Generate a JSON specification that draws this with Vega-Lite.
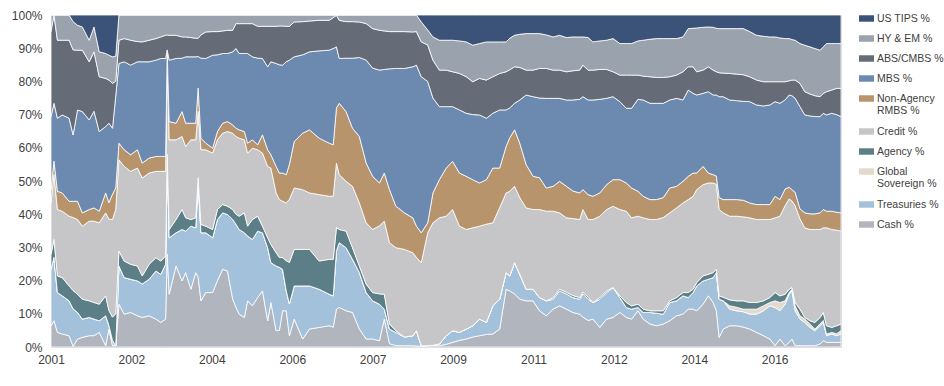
{
  "$schema": "https://vega.github.io/schema/vega-lite/v6.json",
  "autosize": "none",
  "width": 790,
  "height": 332,
  "padding": {"left": 51, "top": 15, "right": 103, "bottom": 39},
  "background": "white",
  "config": {
    "view": {"stroke": "#c8ccd4", "strokeWidth": 1},
    "font": "Liberation Sans, sans-serif"
  },
  "data": {"values": [
{"t":0,"c":6.4,"tr":17,"g":0,"a":4.5,"cr":15.5,"n":4,"m":22,"ab":25.6,"h":5,"tp":0},
{"t":0.75,"c":7.9,"tr":19.1,"g":0,"a":5.4,"cr":19.6,"n":4,"m":17.4,"ab":26.6,"h":0,"tp":0},
{"t":1.6,"c":4.4,"tr":12,"g":0,"a":5,"cr":20,"n":5.5,"m":22,"ab":23.5,"h":7.6,"tp":0},
{"t":2.8,"c":3.9,"tr":11.5,"g":0,"a":5.5,"cr":20,"n":5.5,"m":23.5,"ab":22.5,"h":7.6,"tp":0},
{"t":4.5,"c":3.4,"tr":10.5,"g":0,"a":4.5,"cr":21,"n":4.5,"m":25,"ab":23.5,"h":7.6,"tp":0},
{"t":5.5,"c":0.2,"tr":11.3,"g":0,"a":5.5,"cr":22,"n":4.9,"m":20,"ab":25.6,"h":8.5,"tp":2},
{"t":6.6,"c":2.4,"tr":8,"g":0,"a":5.5,"cr":22.5,"n":5.5,"m":27.5,"ab":18,"h":7.5,"tp":3.1},
{"t":7.8,"c":2.9,"tr":5.5,"g":0,"a":6,"cr":22,"n":4,"m":30.5,"ab":18.5,"h":7,"tp":3.6},
{"t":9.5,"c":3.4,"tr":5.5,"g":0,"a":5,"cr":24,"n":3.5,"m":27,"ab":17.5,"h":6.5,"tp":7.6},
{"t":10.7,"c":3.4,"tr":5,"g":0,"a":5,"cr":24.5,"n":4,"m":29.1,"ab":17.9,"h":7.5,"tp":3.6},
{"t":12,"c":4.4,"tr":3.5,"g":0,"a":5,"cr":24.5,"n":3.5,"m":24,"ab":16.5,"h":7.5,"tp":11.1},
{"t":13.6,"c":0.4,"tr":9,"g":0,"a":6,"cr":25,"n":6,"m":20,"ab":14.5,"h":7.5,"tp":11.6},
{"t":14.4,"c":5.4,"tr":1.1,"g":0,"a":4.5,"cr":27.5,"n":5,"m":23.9,"ab":13,"h":7.5,"tp":12.1},
{"t":15.3,"c":0.4,"tr":1.6,"g":0,"a":7,"cr":29.4,"n":7.6,"m":19.9,"ab":13.5,"h":8,"tp":12.6},
{"t":16.1,"c":0.4,"tr":0,"g":0,"a":9.6,"cr":31.4,"n":6.5,"m":27.7,"ab":4.5,"h":7.5,"tp":12.4},
{"t":16.9,"c":12.9,"tr":11.5,"g":0,"a":4.5,"cr":27.5,"n":5,"m":24,"ab":7,"h":7.6,"tp":0},
{"t":18.2,"c":9.9,"tr":11,"g":0,"a":5,"cr":28.5,"n":5,"m":26.5,"ab":7,"h":7.1,"tp":0},
{"t":19.8,"c":10.4,"tr":10,"g":0,"a":4.5,"cr":28,"n":5,"m":27,"ab":7.5,"h":7.6,"tp":0},
{"t":21.5,"c":9.4,"tr":10.5,"g":0,"a":4.5,"cr":29.5,"n":5.5,"m":26.5,"ab":6.1,"h":8,"tp":0},
{"t":22.7,"c":8.9,"tr":10.1,"g":0,"a":2.4,"cr":29.5,"n":4.5,"m":30.5,"ab":6,"h":8.1,"tp":0},
{"t":24.4,"c":9.4,"tr":11,"g":0,"a":4.5,"cr":27.5,"n":4.5,"m":29,"ab":6.5,"h":7.6,"tp":0},
{"t":26.1,"c":8.4,"tr":14.5,"g":0,"a":4,"cr":26,"n":4.5,"m":29,"ab":6.5,"h":7.1,"tp":0},
{"t":27.3,"c":7.4,"tr":14.5,"g":0,"a":4,"cr":27,"n":4.5,"m":29.5,"ab":6.5,"h":6.6,"tp":0},
{"t":28.5,"c":8.4,"tr":16.5,"g":0,"a":2.5,"cr":25.5,"n":4.5,"m":29.5,"ab":7,"h":6.1,"tp":0},
{"t":28.9,"c":28,"tr":30,"g":0,"a":0,"cr":31,"n":0,"m":0.5,"ab":4.5,"h":6,"tp":0},
{"t":29.4,"c":15.9,"tr":17,"g":0,"a":2.5,"cr":27,"n":5.5,"m":18.5,"ab":7.5,"h":6.1,"tp":0},
{"t":31.1,"c":24.4,"tr":10,"g":0,"a":4,"cr":24,"n":5,"m":19.5,"ab":7,"h":6.1,"tp":0},
{"t":32.6,"c":19.9,"tr":15.5,"g":0,"a":6,"cr":22,"n":7.5,"m":16.1,"ab":6.4,"h":6.6,"tp":0},
{"t":33.5,"c":22.4,"tr":12.5,"g":0,"a":4,"cr":21.5,"n":7,"m":20,"ab":6,"h":6.6,"tp":0},
{"t":34.8,"c":17.4,"tr":19,"g":0,"a":2,"cr":24,"n":5,"m":20,"ab":5.8,"h":6.8,"tp":0},
{"t":36,"c":22.4,"tr":13.5,"g":0,"a":3,"cr":23.5,"n":5,"m":20,"ab":5.6,"h":7,"tp":0},
{"t":36.6,"c":21,"tr":29,"g":0,"a":1,"cr":20,"n":7,"m":9.5,"ab":5.5,"h":7,"tp":0},
{"t":37.3,"c":13.9,"tr":20.5,"g":0,"a":2.5,"cr":22.5,"n":3.5,"m":24.1,"ab":7,"h":6,"tp":0},
{"t":38.5,"c":16.4,"tr":18,"g":0,"a":2,"cr":23,"n":2,"m":25.5,"ab":8,"h":5.1,"tp":0},
{"t":40.2,"c":16.4,"tr":16.5,"g":0,"a":2.5,"cr":23,"n":1.5,"m":28,"ab":7.1,"h":5,"tp":0},
{"t":41.4,"c":20,"tr":18.4,"g":0,"a":3,"cr":21,"n":2.5,"m":23.1,"ab":7,"h":5,"tp":0},
{"t":42.7,"c":23.4,"tr":17,"g":0,"a":2.5,"cr":21.5,"n":3,"m":21,"ab":6.8,"h":4.8,"tp":0},
{"t":43.9,"c":22.9,"tr":17,"g":0,"a":2.5,"cr":22.5,"n":3,"m":20.5,"ab":7,"h":4.6,"tp":0},
{"t":45.2,"c":14.4,"tr":24,"g":0,"a":3,"cr":23,"n":2.5,"m":22,"ab":6.5,"h":4.6,"tp":0},
{"t":46,"c":12,"tr":25,"g":0,"a":3,"cr":23.4,"n":2.5,"m":24,"ab":7.5,"h":2.6,"tp":0},
{"t":46.8,"c":9.9,"tr":25.5,"g":0,"a":4,"cr":23.5,"n":2.5,"m":23,"ab":9,"h":2.6,"tp":0},
{"t":48.1,"c":8.9,"tr":25.5,"g":0,"a":6,"cr":22,"n":2.5,"m":23.5,"ab":9,"h":2.6,"tp":0},
{"t":48.9,"c":13.9,"tr":19.5,"g":0,"a":3,"cr":22,"n":3,"m":27,"ab":9,"h":2.6,"tp":0},
{"t":50.1,"c":12.4,"tr":20,"g":0,"a":6,"cr":21.5,"n":2.5,"m":25,"ab":10,"h":2.6,"tp":0},
{"t":51.4,"c":14.9,"tr":20,"g":0,"a":4.5,"cr":20,"n":1.5,"m":26.1,"ab":9.6,"h":3.4,"tp":0},
{"t":52.6,"c":16.9,"tr":17.5,"g":0,"a":2,"cr":22,"n":5.5,"m":23,"ab":9.7,"h":3.4,"tp":0},
{"t":53.9,"c":7.9,"tr":22,"g":0,"a":3,"cr":21.5,"n":5,"m":25,"ab":12.2,"h":3.4,"tp":0},
{"t":54.7,"c":13.4,"tr":12,"g":0,"a":5.5,"cr":23,"n":4,"m":28,"ab":10.7,"h":3.4,"tp":0},
{"t":56,"c":4.9,"tr":19.5,"g":0,"a":4,"cr":18,"n":8,"m":31,"ab":11.2,"h":3.4,"tp":0},
{"t":56.8,"c":5,"tr":19,"g":0,"a":3,"cr":17.4,"n":8,"m":32.6,"ab":11.7,"h":3.3,"tp":0},
{"t":57.6,"c":10.9,"tr":12.5,"g":0,"a":3.5,"cr":17,"n":8.5,"m":32.5,"ab":11.8,"h":3.3,"tp":0},
{"t":58.5,"c":10.9,"tr":6.1,"g":0,"a":9,"cr":17.4,"n":8.5,"m":34,"ab":10.7,"h":3.4,"tp":0},
{"t":59.3,"c":3.4,"tr":9.6,"g":0,"a":12.5,"cr":19,"n":10.5,"m":31.4,"ab":10.2,"h":3.4,"tp":0},
{"t":60.5,"c":8.4,"tr":10,"g":0,"a":11,"cr":18.5,"n":14,"m":25.5,"ab":10.5,"h":2.1,"tp":0},
{"t":62.6,"c":2.4,"tr":16,"g":0,"a":11,"cr":18,"n":17,"m":23.6,"ab":10,"h":2,"tp":0},
{"t":64.3,"c":5.4,"tr":13,"g":0,"a":11,"cr":17,"n":19,"m":23.5,"ab":9.3,"h":1.8,"tp":0},
{"t":66.7,"c":5.9,"tr":11.5,"g":0,"a":8.5,"cr":20,"n":17,"m":26.3,"ab":9.2,"h":1.6,"tp":0},
{"t":69.2,"c":6.4,"tr":9.5,"g":0,"a":10.5,"cr":19,"n":16,"m":28,"ab":9,"h":1.6,"tp":0},
{"t":70.2,"c":6,"tr":9.4,"g":0,"a":11,"cr":19,"n":15.5,"m":29,"ab":9.3,"h":0.8,"tp":0},
{"t":71,"c":11.4,"tr":17.6,"g":0,"a":7,"cr":19.4,"n":16.6,"m":18.4,"ab":9.5,"h":0.1,"tp":0},
{"t":71.7,"c":11.9,"tr":19.5,"g":0,"a":4,"cr":16.5,"n":21.5,"m":13.5,"ab":11.5,"h":1.6,"tp":0},
{"t":73.4,"c":10.9,"tr":19,"g":0,"a":5,"cr":15,"n":21,"m":16.1,"ab":11,"h":2,"tp":0},
{"t":75,"c":10.4,"tr":16,"g":0,"a":3.5,"cr":18.5,"n":17.5,"m":21.1,"ab":11,"h":2,"tp":0},
{"t":76.7,"c":5.4,"tr":17,"g":0,"a":2,"cr":19,"n":20,"m":23.8,"ab":10.7,"h":2.1,"tp":0},
{"t":78.4,"c":2.4,"tr":14,"g":0,"a":2.5,"cr":18.5,"n":18,"m":31,"ab":11,"h":2.6,"tp":0},
{"t":80,"c":2.4,"tr":11.5,"g":0,"a":2.5,"cr":19,"n":16,"m":32.6,"ab":11.9,"h":4.1,"tp":0},
{"t":81.7,"c":1.9,"tr":11,"g":0,"a":3.1,"cr":20.5,"n":12.9,"m":34,"ab":12,"h":4.6,"tp":0},
{"t":82.9,"c":8.4,"tr":3,"g":0,"a":4.5,"cr":22,"n":14.5,"m":31.2,"ab":11.6,"h":4.8,"tp":0},
{"t":84.2,"c":1,"tr":4.4,"g":0,"a":1.5,"cr":24.5,"n":16,"m":36.4,"ab":11.2,"h":5,"tp":0},
{"t":85.8,"c":0.4,"tr":4,"g":0,"a":0.5,"cr":25,"n":12.5,"m":41.5,"ab":11.1,"h":5,"tp":0},
{"t":87.9,"c":0.4,"tr":2.6,"g":0,"a":0,"cr":26.4,"n":11,"m":43.5,"ab":11.1,"h":5,"tp":0},
{"t":90,"c":0.4,"tr":3,"g":0,"a":0,"cr":25,"n":10.5,"m":45.5,"ab":10.5,"h":5.1,"tp":0},
{"t":90.9,"c":0.3,"tr":4.6,"g":0,"a":0,"cr":22.1,"n":9.4,"m":48.5,"ab":10.1,"h":5,"tp":0},
{"t":92.1,"c":0.2,"tr":0.2,"g":0,"a":0,"cr":25,"n":9,"m":47,"ab":10.5,"h":6,"tp":2.1},
{"t":93.7,"c":0.4,"tr":0,"g":0,"a":0,"cr":34,"n":3,"m":42.6,"ab":11,"h":4.5,"tp":4.5},
{"t":95,"c":0.4,"tr":0.1,"g":0,"a":0,"cr":36.9,"n":9,"m":28.6,"ab":11.4,"h":7,"tp":6.6},
{"t":96.6,"c":0.4,"tr":0.5,"g":0,"a":0,"cr":38,"n":11.5,"m":22,"ab":11,"h":9,"tp":7.6},
{"t":98.3,"c":0.8,"tr":2.6,"g":0,"a":0,"cr":36,"n":14.5,"m":18.5,"ab":11,"h":9,"tp":7.6},
{"t":99.9,"c":1.4,"tr":3.5,"g":0,"a":0,"cr":36.5,"n":14.5,"m":16.5,"ab":10.5,"h":9.5,"tp":7.6},
{"t":101.6,"c":2,"tr":2.4,"g":0,"a":0,"cr":32,"n":16,"m":19,"ab":11,"h":9.8,"tp":7.8},
{"t":103.3,"c":2.4,"tr":3,"g":0,"a":0,"cr":30,"n":16,"m":19,"ab":11,"h":10.5,"tp":8.1},
{"t":104.9,"c":3,"tr":3.4,"g":0,"a":0,"cr":29.5,"n":14.5,"m":19.6,"ab":9.9,"h":11,"tp":9.1},
{"t":106.6,"c":3.4,"tr":5,"g":0,"a":0,"cr":28,"n":13,"m":20.5,"ab":11,"h":10.5,"tp":8.6},
{"t":108.3,"c":3.8,"tr":3.6,"g":0,"a":0,"cr":29.6,"n":13.4,"m":18.5,"ab":11.5,"h":11.5,"tp":8.1},
{"t":109.9,"c":3.9,"tr":8.5,"g":0,"a":0,"cr":25,"n":16.5,"m":16.5,"ab":11,"h":10.5,"tp":8.1},
{"t":111.6,"c":5.4,"tr":9,"g":0,"a":0,"cr":27.6,"n":11.9,"m":17.5,"ab":11,"h":9.5,"tp":8.1},
{"t":113.2,"c":17.4,"tr":5,"g":0,"a":0,"cr":24,"n":14,"m":11,"ab":11.5,"h":9,"tp":8.1},
{"t":114.1,"c":16.9,"tr":4.5,"g":0,"a":0,"cr":25.5,"n":16.1,"m":9,"ab":11.5,"h":9.5,"tp":7},
{"t":115.3,"c":16,"tr":9.4,"g":0,"a":0,"cr":23,"n":17,"m":8,"ab":11,"h":9.5,"tp":6.1},
{"t":116.6,"c":14.4,"tr":7.5,"g":0,"a":0,"cr":23.1,"n":16.4,"m":13,"ab":9.8,"h":10,"tp":5.8},
{"t":118.2,"c":13.9,"tr":3.5,"g":0,"a":0,"cr":24.5,"n":13,"m":21,"ab":7.5,"h":11,"tp":5.6},
{"t":119.9,"c":13.9,"tr":3.5,"g":0,"a":0,"cr":24,"n":10,"m":24,"ab":8,"h":11,"tp":5.6},
{"t":121.5,"c":10.9,"tr":4,"g":0,"a":0,"cr":26.5,"n":9.6,"m":24,"ab":8.9,"h":10.5,"tp":5.6},
{"t":123.2,"c":9.4,"tr":4.5,"g":0,"a":0,"cr":27,"n":7,"m":27,"ab":9,"h":10.1,"tp":6},
{"t":124.9,"c":11.4,"tr":3,"g":0,"a":0.5,"cr":26,"n":7.5,"m":26.5,"ab":8.5,"h":10,"tp":6.6},
{"t":126.5,"c":12.4,"tr":4.5,"g":0,"a":0.5,"cr":23,"n":9.5,"m":25,"ab":8.5,"h":10.5,"tp":6.1},
{"t":128.2,"c":11.4,"tr":4.6,"g":0,"a":0.5,"cr":22.4,"n":9.5,"m":26,"ab":8.5,"h":10.3,"tp":6.8},
{"t":129.8,"c":10.4,"tr":4.5,"g":0,"a":0.6,"cr":23.2,"n":8.3,"m":27.4,"ab":8.8,"h":10.2,"tp":6.6},
{"t":131.5,"c":9.9,"tr":4.5,"g":0,"a":0.5,"cr":23.5,"n":8,"m":28.2,"ab":8.8,"h":10,"tp":6.6},
{"t":132.3,"c":9,"tr":7,"g":0,"a":0.5,"cr":24.9,"n":6,"m":28,"ab":9.5,"h":8.5,"tp":6.6},
{"t":133.6,"c":8,"tr":6.4,"g":0,"a":0.6,"cr":23.4,"n":7.5,"m":28.5,"ab":9,"h":9.8,"tp":6.8},
{"t":134.8,"c":8.4,"tr":5,"g":0,"a":0,"cr":25,"n":7,"m":29,"ab":9,"h":8.5,"tp":8.1},
{"t":136.5,"c":5.9,"tr":8.5,"g":0,"a":0.5,"cr":24.5,"n":7,"m":28.2,"ab":9,"h":8.6,"tp":7.8},
{"t":138.2,"c":8.4,"tr":8,"g":0,"a":0.5,"cr":24.5,"n":7.5,"m":26,"ab":8.7,"h":8.8,"tp":7.6},
{"t":139.8,"c":8.9,"tr":9,"g":0,"a":0,"cr":24.5,"n":8,"m":25,"ab":7.5,"h":10,"tp":7.1},
{"t":141.5,"c":10.4,"tr":4.5,"g":0,"a":0.5,"cr":26,"n":9,"m":23.5,"ab":8,"h":9.5,"tp":8.6},
{"t":143.1,"c":8.9,"tr":3,"g":0,"a":1.5,"cr":27.5,"n":8.5,"m":22.5,"ab":10,"h":9.5,"tp":8.6},
{"t":144.4,"c":8.4,"tr":3,"g":0,"a":1,"cr":26.5,"n":9,"m":24,"ab":10,"h":9.5,"tp":8.6},
{"t":146,"c":10.9,"tr":1,"g":0,"a":1,"cr":26.5,"n":7.5,"m":27.7,"ab":7.3,"h":10.3,"tp":7.8},
{"t":147.3,"c":8.4,"tr":2,"g":0,"a":1,"cr":27.5,"n":6.5,"m":29,"ab":7.2,"h":10.8,"tp":7.6},
{"t":149,"c":6.9,"tr":3.5,"g":0,"a":0.5,"cr":27.5,"n":6,"m":29,"ab":8,"h":11.3,"tp":7.3},
{"t":150.6,"c":6.4,"tr":3.8,"g":0,"a":0.7,"cr":27.5,"n":6,"m":29,"ab":7.8,"h":11.7,"tp":7.1},
{"t":152.3,"c":6.9,"tr":3,"g":0,"a":1,"cr":28.1,"n":6,"m":28.4,"ab":7.8,"h":11.7,"tp":7.1},
{"t":153.9,"c":7.9,"tr":5.5,"g":0,"a":0.5,"cr":26.5,"n":7.5,"m":26.5,"ab":7,"h":11.5,"tp":7.1},
{"t":155.6,"c":9.4,"tr":4.5,"g":0,"a":1,"cr":27,"n":6.5,"m":26.5,"ab":7,"h":11,"tp":7.1},
{"t":157.2,"c":9.9,"tr":5.5,"g":0,"a":1,"cr":27,"n":6.5,"m":24.5,"ab":8.5,"h":10.5,"tp":6.6},
{"t":158.5,"c":11.4,"tr":3.5,"g":0,"a":1.5,"cr":28,"n":7,"m":26,"ab":7,"h":11.5,"tp":4.1},
{"t":159.7,"c":11.4,"tr":5,"g":0,"a":1,"cr":28,"n":7,"m":24,"ab":8,"h":11.6,"tp":4},
{"t":160.6,"c":10.9,"tr":7.5,"g":0,"a":1,"cr":28,"n":5,"m":23.5,"ab":7,"h":13.2,"tp":3.9},
{"t":162.2,"c":12.9,"tr":7,"g":0,"a":1.5,"cr":27.5,"n":5.5,"m":22,"ab":7,"h":12.9,"tp":3.7},
{"t":163.5,"c":15.4,"tr":5,"g":0,"a":1.5,"cr":27.5,"n":3,"m":24.5,"ab":7.5,"h":12,"tp":3.6},
{"t":164.7,"c":13.4,"tr":7.5,"g":0,"a":1.5,"cr":27,"n":2.5,"m":24,"ab":7.5,"h":12.9,"tp":3.7},
{"t":165.5,"c":10.9,"tr":11.5,"g":0,"a":1,"cr":25.6,"n":2.5,"m":24.4,"ab":7,"h":13.1,"tp":4},
{"t":166.2,"c":2.9,"tr":11.5,"g":0,"a":1,"cr":26,"n":3.6,"m":30.4,"ab":7.2,"h":13.3,"tp":4.1},
{"t":167.2,"c":5.4,"tr":8.5,"g":0,"a":1.1,"cr":25.4,"n":4,"m":31,"ab":7.1,"h":13.4,"tp":4.1},
{"t":168.8,"c":6.4,"tr":5,"g":1,"a":1.8,"cr":25.2,"n":5,"m":30,"ab":8,"h":13.5,"tp":4.1},
{"t":170.5,"c":6.4,"tr":4.5,"g":1.1,"a":1.9,"cr":25.5,"n":5,"m":29.8,"ab":8,"h":13.7,"tp":4.1},
{"t":172.2,"c":6,"tr":4.6,"g":0.8,"a":2.5,"cr":25.3,"n":5,"m":29.8,"ab":8,"h":13.9,"tp":4.1},
{"t":173.8,"c":5.4,"tr":4.5,"g":1.5,"a":2,"cr":25.5,"n":4.5,"m":30.5,"ab":7.5,"h":13.6,"tp":5},
{"t":175.5,"c":4.4,"tr":5.5,"g":1.5,"a":2,"cr":25,"n":4.5,"m":30,"ab":7.5,"h":13.5,"tp":6.1},
{"t":177.2,"c":3.4,"tr":7.5,"g":1.5,"a":1.5,"cr":24.5,"n":4.5,"m":29.7,"ab":7.3,"h":13.7,"tp":6.4},
{"t":178.8,"c":2.4,"tr":10,"g":1,"a":1.5,"cr":23.5,"n":4.5,"m":30,"ab":7,"h":13.5,"tp":6.6},
{"t":180.1,"c":0.4,"tr":11.5,"g":2,"a":2.5,"cr":22.5,"n":6.5,"m":28.5,"ab":6,"h":13.5,"tp":6.6},
{"t":181.3,"c":2.4,"tr":8.5,"g":2.5,"a":2,"cr":24,"n":5,"m":29,"ab":6.5,"h":13.2,"tp":6.9},
{"t":182.6,"c":0.4,"tr":12.5,"g":1,"a":2,"cr":26.7,"n":5,"m":26.8,"ab":5.5,"h":13,"tp":7.1},
{"t":183.6,"c":1.4,"tr":14.5,"g":0.5,"a":1,"cr":27.2,"n":3.5,"m":27.8,"ab":4.3,"h":12.7,"tp":7.1},
{"t":184.3,"c":2.4,"tr":14.5,"g":0.5,"a":0.5,"cr":26.1,"n":3.4,"m":28.3,"ab":4.7,"h":12.2,"tp":7.4},
{"t":185.1,"c":0.4,"tr":10.5,"g":1.5,"a":1,"cr":29.2,"n":4,"m":28.3,"ab":5.5,"h":12,"tp":7.6},
{"t":186.3,"c":0.4,"tr":8,"g":1,"a":2,"cr":27.2,"n":3,"m":30.8,"ab":7,"h":12,"tp":8.6},
{"t":187.5,"c":0.4,"tr":7,"g":1,"a":0.5,"cr":27,"n":4.5,"m":29.5,"ab":7,"h":14,"tp":9.1},
{"t":188.8,"c":0.4,"tr":5.5,"g":1,"a":1,"cr":27.5,"n":4.7,"m":29.5,"ab":6.6,"h":14.2,"tp":9.6},
{"t":190,"c":0.4,"tr":4.5,"g":0.5,"a":2,"cr":28,"n":4.7,"m":29.3,"ab":6.3,"h":14.2,"tp":10.1},
{"t":191.3,"c":0.9,"tr":5.5,"g":0.6,"a":1.9,"cr":26.5,"n":5,"m":29,"ab":6,"h":14,"tp":10.6},
{"t":192.1,"c":1.9,"tr":5.5,"g":0.6,"a":2.4,"cr":25.5,"n":5.5,"m":29,"ab":6,"h":14,"tp":9.6},
{"t":192.9,"c":1.4,"tr":2,"g":0.5,"a":2.5,"cr":29.5,"n":5,"m":29,"ab":7,"h":14.5,"tp":8.6},
{"t":194.2,"c":1.4,"tr":2.5,"g":0.5,"a":1.5,"cr":29.5,"n":5.5,"m":29.5,"ab":7,"h":14,"tp":8.6},
{"t":195.4,"c":1.4,"tr":2,"g":0.6,"a":2.4,"cr":28.8,"n":5.4,"m":29.4,"ab":7.9,"h":13.5,"tp":8.6},
{"t":196.5,"c":1.4,"tr":2.5,"g":1,"a":2,"cr":28,"n":5.5,"m":29,"ab":8.5,"h":13.5,"tp":8.6}
  ]},
  "transform": [
    {"fold": ["c","tr","g","a","cr","n","m","ab","h","tp"], "as": ["k","v"]},
    {"lookup": "k", "from": {"data": {"values": [
      {"k":"c","name":"Cash %","o":0},
      {"k":"tr","name":"Treasuries %","o":1},
      {"k":"g","name":"Global Sovereign %","o":2},
      {"k":"a","name":"Agency %","o":3},
      {"k":"cr","name":"Credit %","o":4},
      {"k":"n","name":"Non-Agency RMBS %","o":5},
      {"k":"m","name":"MBS %","o":6},
      {"k":"ab","name":"ABS/CMBS %","o":7},
      {"k":"h","name":"HY & EM %","o":8},
      {"k":"tp","name":"US TIPS %","o":9}
    ]}, "key": "k", "fields": ["name","o"]}}
  ],
  "mark": {"type": "area", "stroke": "white", "strokeWidth": 0.8, "interpolate": "linear"},
  "encoding": {
    "x": {
      "field": "t", "type": "quantitative",
      "scale": {"domain": [0, 196.5], "nice": false, "zero": false},
      "axis": {
        "title": null, "grid": false, "ticks": false, "domain": false,
        "values": [0,20,40,60,80,100,120,140,160,180],
        "labelExpr": "['2001','2002','2004','2006','2007','2009','2011','2012','2014','2016'][round(datum.value/20)]",
        "labelFlush": false,
        "labelFontSize": 12, "labelColor": "#404040", "labelPadding": 7
      }
    },
    "y": {
      "field": "v", "type": "quantitative", "stack": "normalize",
      "scale": {"domain": [0, 1], "nice": false},
      "axis": {
        "title": null, "grid": false, "ticks": false, "domain": false,
        "values": [0,0.1,0.2,0.3,0.4,0.5,0.6,0.7,0.8,0.9,1],
        "format": ".0%", "labelFontSize": 12, "labelColor": "#404040", "labelPadding": 9
      }
    },
    "color": {
      "field": "name", "type": "nominal",
      "scale": {
        "domain": ["US TIPS %","HY & EM %","ABS/CMBS %","MBS %","Non-Agency RMBS %","Credit %","Agency %","Global Sovereign %","Treasuries %","Cash %"],
        "range": ["#3b5378","#9aa2ad","#656c77","#6c89b0","#b8946c","#c6c6c8","#5c7e86","#e3dacd","#a4c1dc","#b1b5bd"]
      },
      "legend": {
        "title": null,
        "orient": "none",
        "legendX": 808,
        "legendY": -4,
        "padding": 0,
        "symbolType": "M-1,-0.43H1V0.43H-1Z",
        "symbolSize": 225,
        "symbolStrokeWidth": 0,
        "labelOffset": 3,
        "labelFontSize": 10.5,
        "labelColor": "#404040",
        "labelLimit": 70,
        "rowPadding": 7,
        "labelExpr": "datum.label == 'Non-Agency RMBS %' ? ['Non-Agency', 'RMBS %'] : datum.label == 'Global Sovereign %' ? ['Global', 'Sovereign %'] : datum.label"
      }
    },
    "order": {"field": "o", "type": "quantitative", "sort": "ascending"}
  }
}
